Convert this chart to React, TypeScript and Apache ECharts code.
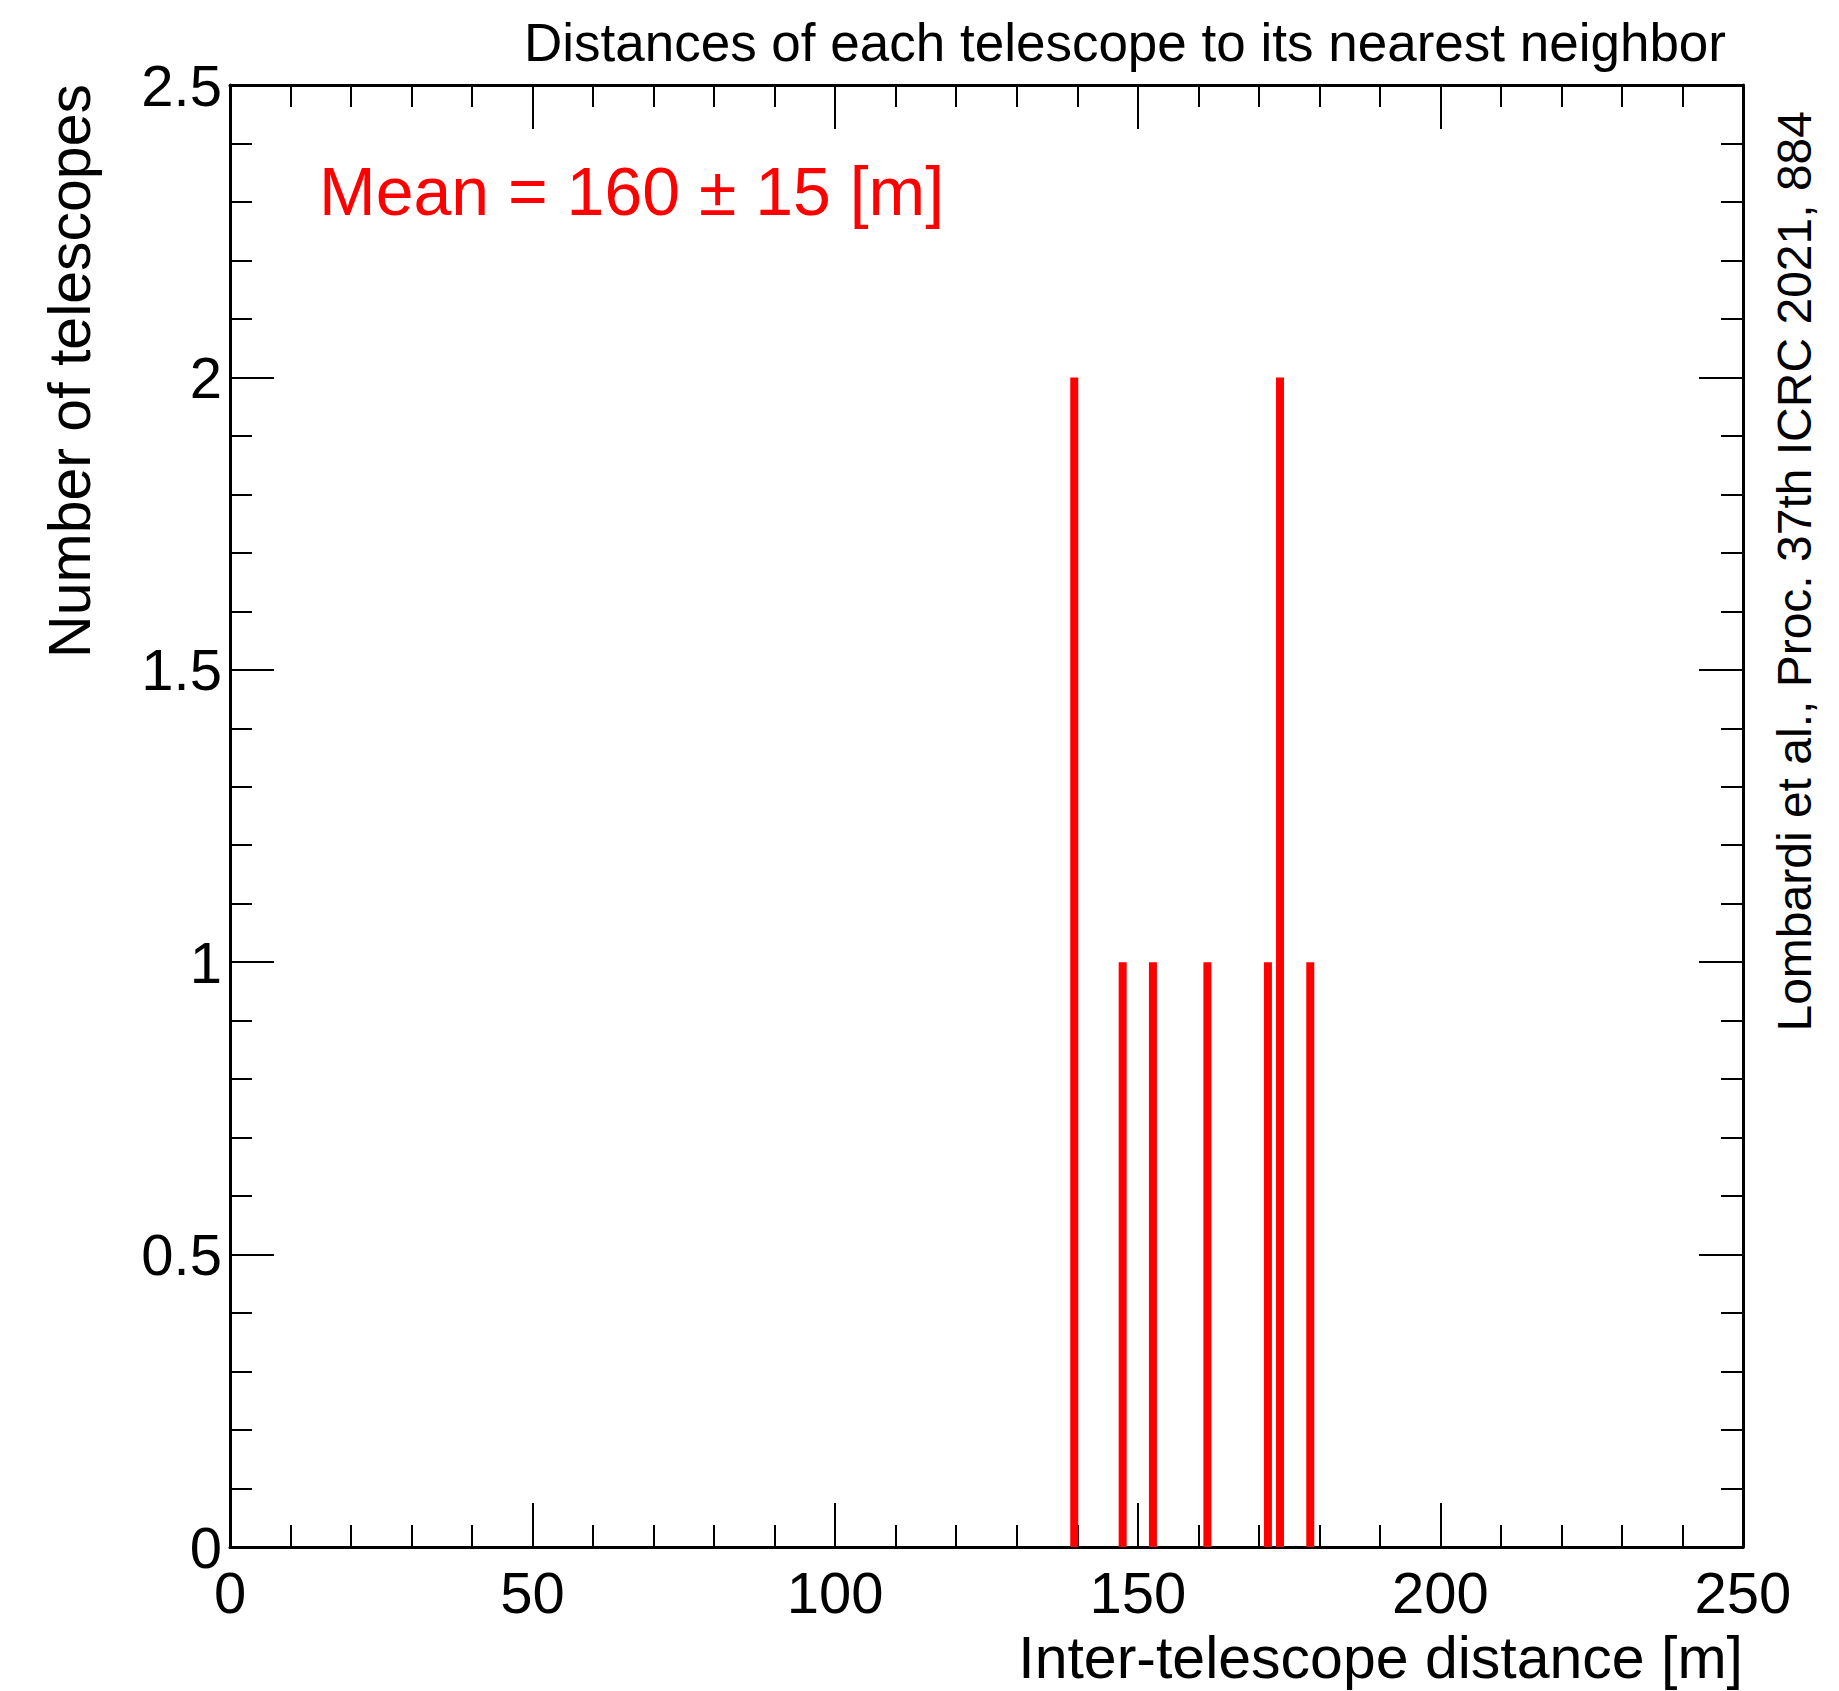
import React, { useEffect, useRef } from "react";
import * as echarts from "echarts";

// Histogram entries: bin centre (m) and count
const distances = [139.5, 147.5, 152.5, 161.5, 171.5, 173.5, 178.5];
const counts = [2, 1, 1, 1, 1, 2, 1];

const xMin = 0;
const xMax = 250;
const xInterval = 50;
const yMin = 0;
const yMax = 2.5;
const yInterval = 0.5;

const titleText = "Distances of each telescope to its nearest neighbor";
const meanText = "Mean = 160 \u00b1 15 [m]";
const xTitle = "Inter-telescope distance [m]";
const yTitle = "Number of telescopes";
const creditText = "Lombardi et al., Proc. 37th ICRC 2021, 884";

const FONT = '"Liberation Sans", Arial, Helvetica, sans-serif';

export default function App() {
  const ref = useRef<HTMLDivElement>(null);

  useEffect(() => {
    document.body.style.margin = "0";
    if (!ref.current) return;
    const chart = echarts.init(ref.current, undefined, { renderer: "svg" });

    const L = 230, T = 85, R = 1743, B = 1547;

    const axisCommon = {
      type: "value" as const,
      axisLine: { show: true, onZero: false, lineStyle: { color: "#000", width: 3 } },
      axisTick: { show: true, inside: true, length: 44, lineStyle: { color: "#000", width: 2 } },
      minorTick: { show: true, splitNumber: 5, length: 22, lineStyle: { color: "#000", width: 2 } },
      splitLine: { show: false },
      minorSplitLine: { show: false },
    };

    chart.setOption({
      animation: false,
      backgroundColor: "#fff",
      grid: { left: L, top: T, right: 1839 - R, bottom: 1691 - B, containLabel: false },
      xAxis: [
        {
          ...axisCommon,
          position: "bottom",
          min: xMin,
          max: xMax,
          interval: xInterval,
          axisLabel: {
            show: true,
            color: "#000",
            fontFamily: FONT,
            fontSize: 58,
            margin: 16,
          },
        },
        {
          ...axisCommon,
          position: "top",
          min: xMin,
          max: xMax,
          interval: xInterval,
          axisLabel: { show: false },
        },
      ],
      yAxis: [
        {
          ...axisCommon,
          position: "left",
          min: yMin,
          max: yMax,
          interval: yInterval,
          axisLabel: {
            show: true,
            color: "#000",
            fontFamily: FONT,
            fontSize: 58,
            margin: 8,
          },
        },
        {
          ...axisCommon,
          position: "right",
          min: yMin,
          max: yMax,
          interval: yInterval,
          axisLabel: { show: false },
        },
      ],
      series: [
        {
          type: "bar",
          xAxisIndex: 0,
          yAxisIndex: 0,
          barWidth: 8,
          itemStyle: { color: "#ff0000" },
          data: distances.map((d, i) => [d, counts[i]]),
          z: 1,
        },
      ],
      graphic: [
        {
          type: "text",
          x: 1726,
          y: 42,
          style: {
            text: titleText,
            font: `53px ${FONT}`,
            fill: "#000",
            textAlign: "right",
            textVerticalAlign: "middle",
          },
        },
        {
          type: "text",
          x: 319,
          y: 191,
          style: {
            text: meanText,
            font: `68px ${FONT}`,
            fill: "#ff0000",
            textAlign: "left",
            textVerticalAlign: "middle",
          },
        },
        {
          type: "text",
          x: 1743,
          y: 1658,
          style: {
            text: xTitle,
            font: `59px ${FONT}`,
            fill: "#000",
            textAlign: "right",
            textVerticalAlign: "middle",
          },
        },
        {
          type: "text",
          x: 70,
          y: 84,
          rotation: Math.PI / 2,
          style: {
            text: yTitle,
            font: `59px ${FONT}`,
            fill: "#000",
            textAlign: "right",
            textVerticalAlign: "middle",
          },
        },
        {
          type: "text",
          x: 1794,
          y: 111,
          rotation: Math.PI / 2,
          style: {
            text: creditText,
            font: `48px ${FONT}`,
            fill: "#000",
            textAlign: "right",
            textVerticalAlign: "middle",
          },
        },
      ],
    });

    return () => chart.dispose();
  }, []);

  return <div ref={ref} style={{ width: 1839, height: 1691 }} />;
}
